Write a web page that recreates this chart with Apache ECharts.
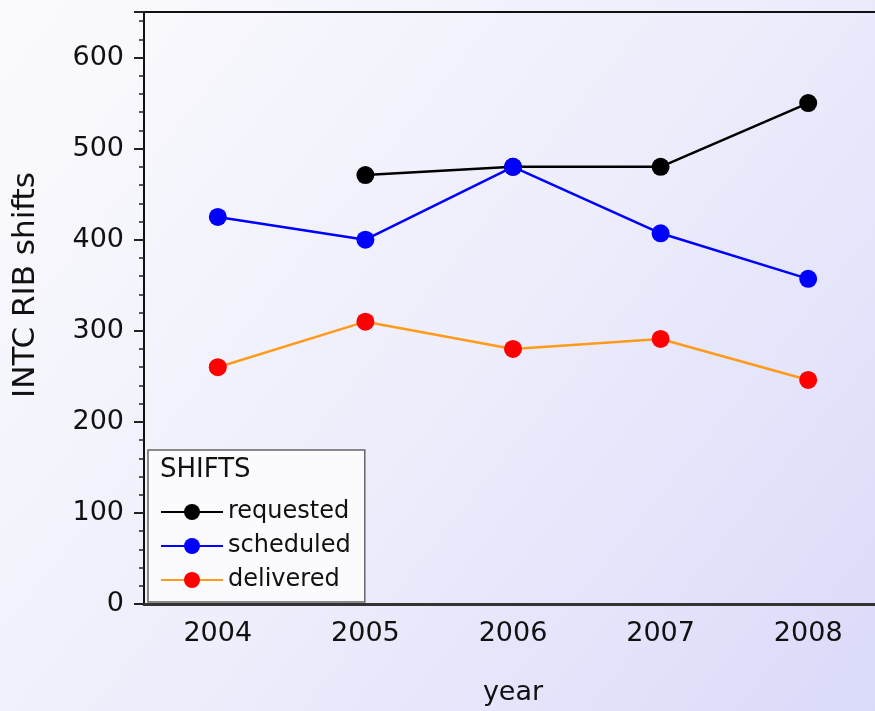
<!DOCTYPE html>
<html lang="en">
  <head>
    <meta charset="UTF-8" />
    <title>INTC RIB shifts</title>
    <script src="https://cdn.jsdelivr.net/npm/echarts@6/dist/echarts.min.js"></script>
    <style>
      * {
        margin: 0;
        padding: 0;
      }
      html, body {
        width: 875px;
        height: 711px;
        overflow: hidden;
      }
    </style>
  </head>
  <body>
    <!-- 图比窗口略宽，右侧边框被裁掉 -->
    <div id="main" style="width: 882px; height: 711px"></div>
    <script>
      // 数据：年份 + 三条曲线
      var years = ['2004', '2005', '2006', '2007', '2008'];
      var requested = [null, 471, 480, 480, 550];
      var scheduled = [425, 400, 480, 407, 357];
      var delivered = [260, 310, 280, 291, 246];

      var font = 'DejaVu Sans';
      var myChart = echarts.init(document.getElementById('main'));

      myChart.setOption({
        backgroundColor: {
          type: 'linear',
          x: 0, y: 0, x2: 1, y2: 1,
          colorStops: [
            { offset: 0, color: '#fbfbfd' },
            { offset: 0.5, color: '#eeeefc' },
            { offset: 1, color: '#dadafa' }
          ]
        },
        animation: false,
        textStyle: { fontFamily: font },
        title: {
          text: 'SHIFTS',
          left: 160,
          top: 457,
          z: 10,
          padding: 0,
          textStyle: { fontFamily: font, fontSize: 26, fontWeight: 'normal', color: '#111' }
        },
        legend: {
          orient: 'vertical',
          left: 148,
          top: 450,
          z: 5,
          padding: [50, 14, 10, 12],
          itemWidth: 62,
          itemHeight: 20,
          itemGap: 10,
          backgroundColor: '#fbfbfd',
          borderColor: '#666',
          borderWidth: 1.5,
          borderRadius: 0,
          textStyle: { fontFamily: font, fontSize: 24, color: '#111' },
          data: ['requested', 'scheduled', 'delivered']
        },
        grid: {
          left: 144,
          top: 12,
          right: 0,
          bottom: 107
        },
        xAxis: [
          {
            type: 'category',
            data: years,
            boundaryGap: true,
            name: 'year',
            nameLocation: 'middle',
            nameGap: 75,
            nameTextStyle: { fontFamily: font, fontSize: 27, color: '#111' },
            axisLine: { lineStyle: { color: '#333', width: 3 } },
            axisTick: { alignWithLabel: true, length: 10, lineStyle: { color: '#222', width: 2 } },
            axisLabel: { fontFamily: font, fontSize: 27, color: '#111', margin: 16 },
            splitLine: { show: false }
          },
          {
            // 顶部边框
            type: 'category',
            position: 'top',
            data: years,
            axisLine: { show: true, lineStyle: { color: '#111', width: 2 } },
            axisTick: { show: false },
            axisLabel: { show: false },
            splitLine: { show: false }
          }
        ],
        yAxis: {
          type: 'value',
          min: 0,
          max: 650,
          interval: 100,
          axisLine: { show: true, lineStyle: { color: '#111', width: 2 } },
          axisTick: { show: true, length: 10, lineStyle: { color: '#222', width: 2 } },
          minorTick: { show: true, splitNumber: 5, length: 5, lineStyle: { color: '#222', width: 1.5 } },
          axisLabel: {
            fontFamily: font,
            fontSize: 27,
            color: '#111',
            margin: 20,
            showMaxLabel: false,
            formatter: function (v) {
              return v > 600 ? '' : v;
            }
          },
          splitLine: { show: false }
        },
        graphic: [
          {
            type: 'text',
            x: 26,
            y: 285,
            rotation: Math.PI / 2,
            style: {
              text: 'INTC RIB shifts',
              font: '31px "DejaVu Sans"',
              fill: '#111',
              align: 'center',
              verticalAlign: 'middle'
            }
          }
        ],
        series: [
          {
            name: 'requested',
            type: 'line',
            data: requested,
            symbol: 'circle',
            symbolSize: 18,
            itemStyle: { color: '#000' },
            lineStyle: { color: '#000', width: 2.5 }
          },
          {
            name: 'scheduled',
            type: 'line',
            data: scheduled,
            symbol: 'circle',
            symbolSize: 18,
            itemStyle: { color: '#0000ff' },
            lineStyle: { color: '#0000ff', width: 2.5 }
          },
          {
            name: 'delivered',
            type: 'line',
            data: delivered,
            symbol: 'circle',
            symbolSize: 18,
            itemStyle: { color: '#ff0000' },
            lineStyle: { color: '#ff9a1a', width: 2.5 }
          }
        ]
      });
    </script>
  </body>
</html>
